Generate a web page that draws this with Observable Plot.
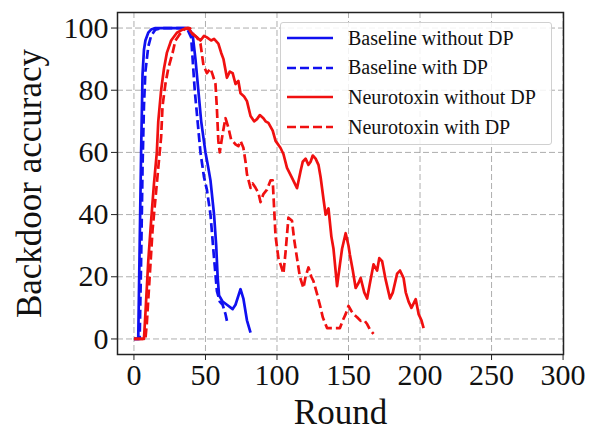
<!DOCTYPE html>
<html>
<head>
<meta charset="utf-8">
<script src="https://cdn.jsdelivr.net/npm/d3@7"></script>
<script src="https://cdn.jsdelivr.net/npm/@observablehq/plot@0.6"></script>
<style>
  html, body { margin: 0; padding: 0; background: #fff; }
  #wrap { position: relative; width: 592px; height: 431px; font-family: "Liberation Serif", "Times New Roman", serif; }
  #legend { position: absolute; left: 280px; top: 22px; width: 272px; height: 123px; box-sizing: border-box;
            border: 1px solid #d0d0d0; border-radius: 3px; background: rgba(255,255,255,0.85); }
  .row { position: absolute; left: 0; height: 30px; display: flex; align-items: center; font-size: 20px; color: #111; white-space: nowrap; }
  .row svg { margin-left: 6px; margin-right: 15px; }
</style>
</head>
<body>
<div id="wrap"></div>
<script>
// ---------- data ----------
const xTicks = [0, 50, 100, 150, 200, 250, 300];
const yTicks = [0, 20, 40, 60, 80, 100];
const seriesNames = ["Baseline without DP", "Baseline with DP", "Neurotoxin without DP", "Neurotoxin with DP"];
const seriesColors = ["#1010f0", "#1010f0", "#f01010", "#f01010"];
const seriesDashed = [false, true, false, true];

const baselineNoDPRound = [0, 3, 4, 5, 6, 7, 8, 10, 12, 15, 20, 30, 38, 41, 43, 45, 47, 50, 52, 53.5, 56, 57.5, 58.5, 59.5, 62, 65, 69, 71, 74.5, 76.5, 79, 81.5];
const baselineNoDPAcc   = [0, 0, 30, 60, 85, 93, 96, 98.5, 99.5, 100, 100, 100, 100, 98, 90, 80, 70, 60, 55, 51, 40, 30, 20, 14, 12, 11, 9.6, 11, 16, 13, 6, 2];

const baselineDPRound = [0, 4, 5, 6, 7, 8, 10, 12, 15, 20, 37, 40, 42.5, 44.5, 46.5, 49, 51, 53.5, 56, 58, 60, 62, 64, 65];
const baselineDPAcc   = [0, 0, 25, 55, 75, 86, 94, 97.5, 99.5, 100, 100, 97, 80, 70, 60, 52, 48, 40, 26, 15.4, 12, 11, 8, 5.8];

const neuroNoDPRound = [0, 7, 8, 10, 12, 14, 16, 17, 19, 21, 23, 26, 30, 34, 38, 41, 44, 46.5, 49, 51, 54, 56, 59, 61, 62.6, 65, 67, 69, 71, 73, 74.5, 77, 79, 81.5, 84, 86, 88, 90.5, 92, 94, 97, 99, 102.4, 104.5, 107, 110.5, 114, 116.5, 118, 120, 122, 123.5, 125, 127, 129, 130.5, 132.5, 134, 136, 138, 139.5, 142, 144, 145.5, 148, 150, 151, 153, 155, 157, 158.5, 161, 163, 165, 167.5, 170, 171.5, 173.5, 176, 179, 181, 184, 186, 188.5, 190, 192, 194, 197, 199, 201, 202.5];
const neuroNoDPAcc   = [0, 0, 8, 25, 38, 50, 60, 70, 80, 87, 92, 96, 98.5, 99.5, 100, 98, 97, 96, 97.5, 97, 96, 96.5, 95, 92, 90, 84, 86, 85.5, 82, 83, 79, 78, 76.5, 71.7, 70, 70.7, 72, 71, 70, 69.5, 67, 63.7, 61.5, 59.5, 55, 51.8, 48.5, 54, 57, 58, 56, 57, 59, 58, 56, 52, 45, 40, 42, 33, 29, 17, 24, 29, 34, 30, 27, 22, 16.4, 18, 19.6, 15, 13, 18, 24, 22, 26, 25, 19, 13, 15, 21, 22, 19.6, 15, 12, 10, 12.8, 8, 6, 3.5];

const neuroDPRound = [0, 8, 9, 11, 13, 15, 17, 19, 20, 22, 24, 27, 29, 32, 36, 39, 41.6, 44, 46.5, 48.6, 51, 53.5, 55, 57, 58, 59, 60, 62, 64, 66, 68, 69, 71, 73, 74.5, 76.5, 78, 79, 81.5, 83, 85, 87, 88.5, 90.5, 93, 95.5, 97, 98, 99, 101, 102.5, 104.5, 106, 108, 110.5, 112, 114, 116, 118.5, 120, 122, 124, 125.5, 128, 130.5, 132, 135, 139.5, 144, 146, 148, 150, 152, 153.5, 156, 158.5, 161, 163, 165, 167.5];
const neuroDPAcc   = [0, 0, 5, 20, 35, 45, 55, 65, 75, 82, 87, 92, 96, 98, 100, 100, 98, 97, 95, 88, 85.5, 87, 85, 82, 74, 63.7, 60, 66, 71, 68, 64, 63.7, 62.6, 62, 63.7, 61.5, 57, 53, 48.6, 50, 48.6, 47, 44, 46.6, 48, 51, 51, 42, 33, 26, 24, 21, 28, 39, 38, 32, 26, 20, 16.4, 20, 23, 20, 18.6, 14.5, 10, 7, 3.5, 3.5, 3.5, 6, 8, 10.6, 9, 8, 7, 5.8, 6, 4.8, 3, 1.6];

const xLabel = "Round";
const yLabel = "Backdoor accuracy";

// ---------- build ----------
const allRounds = [baselineNoDPRound, baselineDPRound, neuroNoDPRound, neuroDPRound];
const allAcc = [baselineNoDPAcc, baselineDPAcc, neuroNoDPAcc, neuroDPAcc];
const series = allRounds.map((rs, i) => rs.map((r, j) => ({round: r, acc: allAcc[i][j]})));

const lineMarks = series.map((d, i) => Plot.line(d, {
  x: "round", y: "acc",
  stroke: seriesColors[i], strokeWidth: 2.7,
  strokeDasharray: seriesDashed[i] ? "9,4" : null,
  strokeLinejoin: "round", strokeLinecap: "butt"
}));

const chart = Plot.plot({
  width: 592, height: 431,
  marginLeft: 117, marginRight: 29, marginTop: 12, marginBottom: 77,
  style: {fontFamily: "'Liberation Serif', 'Times New Roman', serif", fontSize: "30px", color: "#111", background: "#fff", overflow: "visible"},
  x: {domain: [-11.5, 300.3], ticks: xTicks, label: null},
  y: {domain: [-5, 105], ticks: yTicks, label: null},
  marks: [
    Plot.gridX(xTicks, {stroke: "#9a9a9a", strokeOpacity: 0.8, strokeDasharray: "6,3", strokeWidth: 1}),
    Plot.gridY(yTicks, {stroke: "#9a9a9a", strokeOpacity: 0.8, strokeDasharray: "6,3", strokeWidth: 1}),
    ...lineMarks,
    Plot.frame({stroke: "#222", strokeWidth: 1.5}),
    Plot.axisX(xTicks, {tickSize: 6, tickPadding: 3, label: null, stroke: "#222"}),
    Plot.axisY(yTicks, {tickSize: 6, tickPadding: 3, label: null, stroke: "#222"}),
    Plot.text([xLabel], {frameAnchor: "bottom", dy: 69, lineAnchor: "bottom", textAnchor: "middle", fontSize: 35, text: d => d, fill: "#111"}),
    Plot.text([yLabel], {frameAnchor: "left", dx: -77, rotate: -90, lineAnchor: "bottom", textAnchor: "middle", fontSize: 35, text: d => d, fill: "#111"})
  ]
});

const wrap = document.getElementById("wrap");
wrap.appendChild(chart);

// legend
const legend = document.createElement("div");
legend.id = "legend";
seriesNames.forEach((name, i) => {
  const row = document.createElement("div");
  row.className = "row";
  row.style.top = (i * 29.7) + "px";
  const ns = "http://www.w3.org/2000/svg";
  const svg = document.createElementNS(ns, "svg");
  svg.setAttribute("width", "46");
  svg.setAttribute("height", "10");
  const ln = document.createElementNS(ns, "line");
  ln.setAttribute("x1", "0"); ln.setAttribute("x2", "46");
  ln.setAttribute("y1", "5"); ln.setAttribute("y2", "5");
  ln.setAttribute("stroke", seriesColors[i]);
  ln.setAttribute("stroke-width", "2.7");
  if (seriesDashed[i]) ln.setAttribute("stroke-dasharray", "9,4");
  svg.appendChild(ln);
  row.appendChild(svg);
  const t = document.createElement("span");
  t.textContent = name;
  row.appendChild(t);
  legend.appendChild(row);
});
wrap.appendChild(legend);
</script>
</body>
</html>
